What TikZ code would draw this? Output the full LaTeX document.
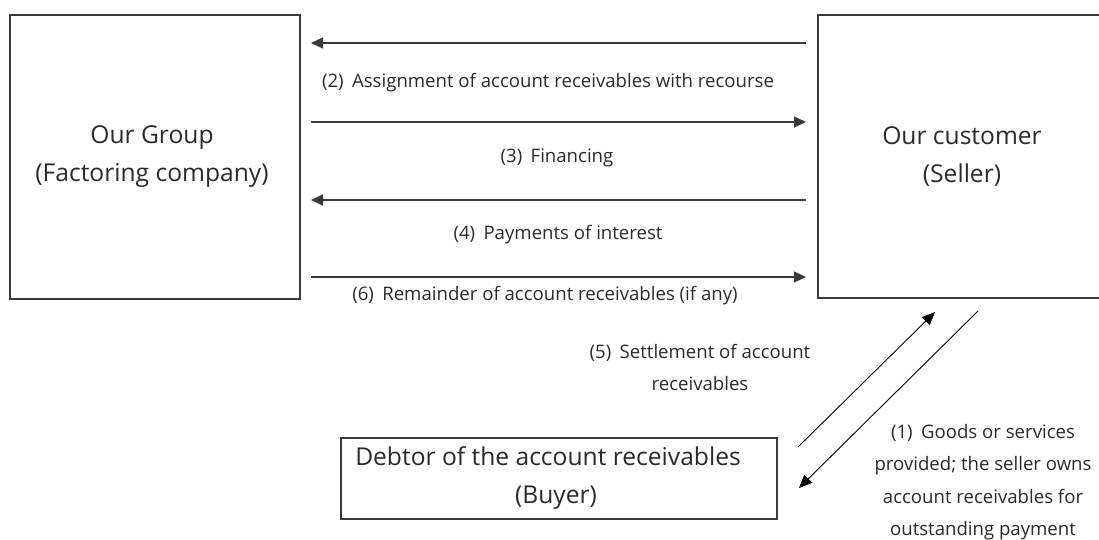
\documentclass[tikz,border=0pt]{standalone}
\usepackage{fontspec}
\setmainfont{Open Sans}
\usetikzlibrary{arrows.meta}
\definecolor{ink}{HTML}{2A2A2A}
\definecolor{linec}{HTML}{3A3A3A}
\begin{document}
\begin{tikzpicture}[x=1pt,y=-1pt,
  box/.style={draw=linec, line width=1.2pt, inner sep=0pt},
  bigtext/.style={text=ink, align=center, font=\fontsize{24.6}{38}\selectfont},
  lbl/.style={text=ink, align=center, font=\fontsize{18.6}{32.5}\selectfont},
  arr/.style={draw=linec, line width=1.3pt, -{Triangle[length=12pt,width=11pt]}},
  darr/.style={draw=black, line width=0.9pt, -{Triangle[length=13pt,width=11pt]}}]
\useasboundingbox (0,0) rectangle (1099,540);
\clip (0,0) rectangle (1099,540);
% boxes
\node[box, minimum width=290pt, minimum height=284pt] (lb) at (155,157) {};
\node[bigtext] (lbt) at (152,157) {Our Group\\(Factoring company)};
\node[box, minimum width=288pt, minimum height=283pt] (rb) at (962,156.5) {};
\node[bigtext] (rbt) at (962,157) {Our customer\\(Seller)};
\node[box, minimum width=436pt, minimum height=81pt] (bb) at (559,478.5) {};
\node[bigtext] (bbt) at (548,478) {Debtor of the account receivables\\\hspace*{16pt}(Buyer)};
% horizontal arrows
\coordinate (l1) at (311,43);  \coordinate (r1) at (806,43);
\coordinate (l2) at (311,122); \coordinate (r2) at (806,122);
\coordinate (l3) at (311,200); \coordinate (r3) at (806,200);
\coordinate (l4) at (311,277); \coordinate (r4) at (806,277);
\draw[arr] (r1) -- (l1);
\draw[arr] (l2) -- (r2);
\draw[arr] (r3) -- (l3);
\draw[arr] (l4) -- (r4);
% labels
\node[lbl] (t2) at (548,83) {(2)\hspace{0.45em}Assignment of account receivables with recourse};
\node[lbl] (t3) at (557,158) {(3)\hspace{0.45em}Financing};
\node[lbl] (t4) at (558,235) {(4)\hspace{0.45em}Payments of interest};
\node[lbl] (t6) at (545,296) {(6)\hspace{0.45em}Remainder of account receivables (if any)};
\node[lbl] (t5) at (700,367.5) {(5)\hspace{0.45em}Settlement of account\\receivables};
\node[lbl] (t1) at (983,482) {(1)\hspace{0.45em}Goods or services\\provided; the seller owns\\account receivables for\\outstanding payment};
% diagonal arrows
\coordinate (d1s) at (798,447); \coordinate (d1e) at (935,312);
\coordinate (d2s) at (978,311); \coordinate (d2e) at (799,488);
\draw[darr] (d1s) -- (d1e);
\draw[darr] (d2s) -- (d2e);
\end{tikzpicture}
\end{document}
